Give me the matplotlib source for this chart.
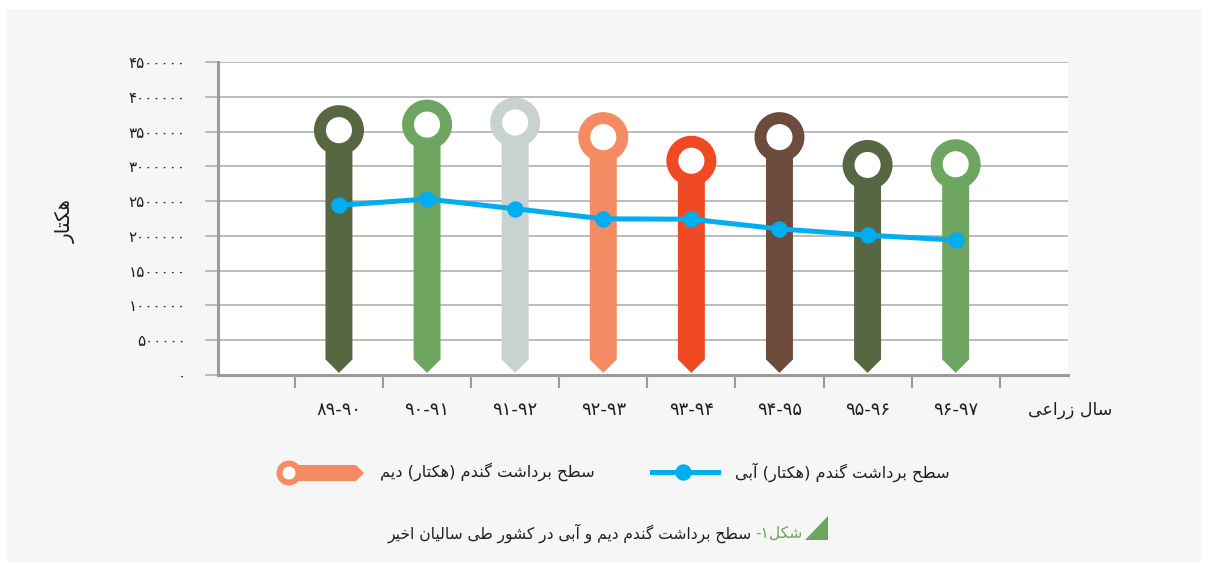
import matplotlib
matplotlib.use('Agg')
import matplotlib.pyplot as plt
from matplotlib.patches import Rectangle, Polygon, Circle
from matplotlib.ticker import FuncFormatter

# داده ها
years = ['۸۹-۹۰', '۹۰-۹۱', '۹۱-۹۲', '۹۲-۹۳', '۹۳-۹۴', '۹۴-۹۵', '۹۵-۹۶', '۹۶-۹۷']
dryland = [3520000, 3600000, 3630000, 3420000, 3080000, 3420000, 3020000, 3030000]
irrigated = [2440000, 2530000, 2390000, 2245000, 2240000, 2100000, 2010000, 1940000]
pin_colors = ['#566741', '#6ea561', '#c8d2d0', '#f58b62', '#ef4a23', '#6d4c3d', '#566741', '#6ea561']
yticks = list(range(0, 4500001, 500000))

label_dry = 'سطح برداشت گندم (هکتار) دیم'
label_irr = 'سطح برداشت گندم (هکتار) آبی'
y_title = 'هکتار'
x_title = 'سال زراعی'
caption_head = 'شکل۱-'
caption_body = 'سطح برداشت گندم دیم و آبی در کشور طی سالیان اخیر'

# matplotlib does not shape arabic script, so use presentation forms + reverse
FORMS = {'ا': (0xFE8D, False), 'آ': (0xFE81, False), 'د': (0xFEA9, False), 'ر': (0xFEAD, False),
         'ز': (0xFEAF, False), 'و': (0xFEED, False),
         'ب': (0xFE8F, True), 'ت': (0xFE95, True), 'ح': (0xFEA1, True), 'خ': (0xFEA5, True),
         'س': (0xFEB1, True), 'ش': (0xFEB5, True), 'ط': (0xFEC1, True), 'ع': (0xFEC9, True),
         'ل': (0xFEDD, True), 'م': (0xFEE1, True), 'ن': (0xFEE5, True), 'ه': (0xFEE9, True),
         'ک': (0xFB8E, True), 'گ': (0xFB92, True), 'ی': (0xFBFC, True)}


def shape(text):
    out = []
    for i, ch in enumerate(text):
        if ch not in FORMS:
            out.append(ch)
            continue
        base, dual = FORMS[ch]
        prev = text[i - 1] if i > 0 else ''
        nxt = text[i + 1] if i + 1 < len(text) else ''
        jp = prev in FORMS and FORMS[prev][1]
        jn = dual and nxt in FORMS
        k = 3 if (jp and jn) else 1 if jp else 2 if jn else 0
        out.append(chr(base + k))
    vis = ''.join(out)[::-1]
    return vis.translate(str.maketrans('()', ')('))


def fa_digits(v, pos=None):
    return str(int(v)).translate(str.maketrans('0123456789', '۰۱۲۳۴۵۶۷۸۹'))


txt = '#231f20'
grid_c = '#aaaaaa'
spine_c = '#9b9b9b'
blue = '#00adef'
green = '#6ea561'
salmon = '#f58b62'

W, H = 1208, 569
fig = plt.figure(figsize=(W / 100, H / 100), dpi=100, facecolor='white')

# background panel + legend/caption layer in pixel coords
bg = fig.add_axes([0, 0, 1, 1], zorder=-1)
bg.set_xlim(0, W)
bg.set_ylim(H, 0)
bg.axis('off')
bg.add_patch(Rectangle((7, 9), 1194, 553, color='#f6f6f6', lw=0))

ax = fig.add_axes([218 / W, 1 - 375 / H, 850 / W, 313 / H])
ax.set_facecolor('white')

x = list(range(len(years)))
ax.set_xlim(-1.373, 8.275)
ax.set_ylim(0, 4500000)

# pins
bw = 0.306
tip = 30000
ah = 194000
for i, v in enumerate(dryland):
    ax.fill([i - bw / 2, i - bw / 2, i, i + bw / 2, i + bw / 2],
            [v, tip + ah, tip, tip + ah, v], color=pin_colors[i], lw=0, zorder=3)
ax.scatter(x, dryland, s=27.4 ** 2, facecolors='white', edgecolors=pin_colors,
           linewidths=8.6, zorder=4)

ax.plot(x, irrigated, color=blue, lw=3.6, marker='o', ms=10.8, zorder=5)

ax.set_yticks(yticks)
ax.yaxis.set_major_formatter(FuncFormatter(fa_digits))
ax.yaxis.grid(True, color=grid_c, lw=1.1)
ax.set_axisbelow(True)
ax.tick_params(axis='y', length=9.4, width=1.1, color=grid_c, pad=14, labelsize=11, labelcolor=txt)

ax.set_xticks([i - 0.5 for i in range(len(years) + 1)])
ax.set_xticklabels([])
ax.set_xticks(x, years, minor=True)
ax.tick_params(axis='x', which='major', length=9.4, width=1.5, color=spine_c)
ax.tick_params(axis='x', which='minor', length=0, pad=19, labelsize=13, labelcolor=txt)

for s in ['top', 'right']:
    ax.spines[s].set_visible(False)
for s in ['left', 'bottom']:
    ax.spines[s].set_color(spine_c)
    ax.spines[s].set_linewidth(2.2)

# axis titles
bg.text(1070, 410, shape(x_title), ha='center', va='center', fontsize=12.5, color=txt)
bg.text(66, 221, shape(y_title), rotation=90, ha='center', va='center', fontsize=14.5, color=txt)

# legend
bg.add_patch(Polygon([(289, 465), (356, 465), (364, 473), (356, 481), (289, 481)], color=salmon, lw=0))
bg.add_patch(Circle((289, 473), 12.5, color=salmon, lw=0))
bg.add_patch(Circle((289, 473), 6.5, color='white', lw=0))
bg.text(380, 472, shape(label_dry), ha='left', va='center', fontsize=11.7, color=txt)
bg.plot([652, 683, 718], [472, 472, 472], color=blue, lw=3.6, marker='o', ms=10.8, markevery=[1])
bg.text(735, 472, shape(label_irr), ha='left', va='center', fontsize=11.7, color=txt)

# caption
bg.add_patch(Polygon([(805, 540), (828, 540), (828, 516)], color=green, lw=0))
head = bg.text(803, 533, shape(caption_head), ha='right', va='center', fontsize=11.2, color=green)
fig.canvas.draw()
hb = head.get_window_extent()
bg.text(hb.x0 - 4, 533, shape(caption_body), ha='right', va='center', fontsize=11.2, color=txt)

fig.savefig('out.png', dpi=100, facecolor='white')
